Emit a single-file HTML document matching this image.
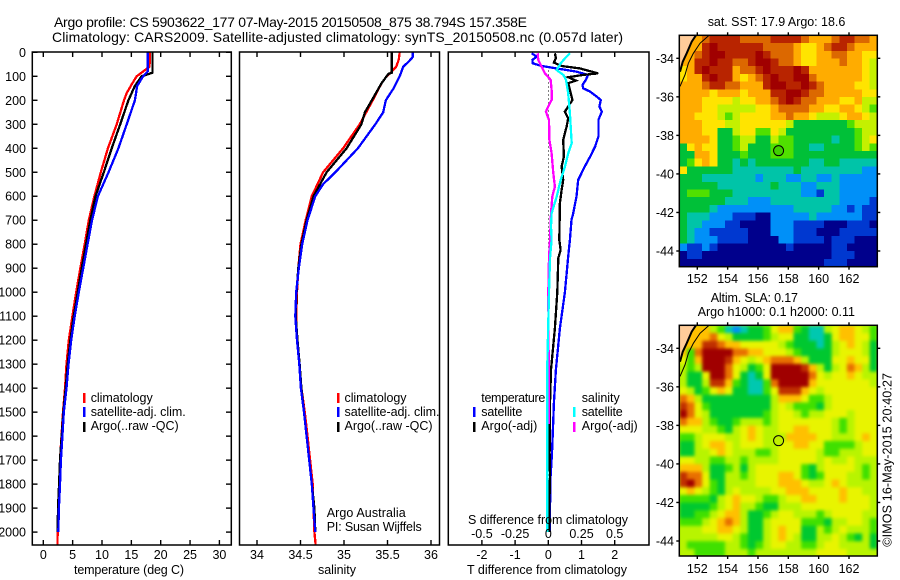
<!DOCTYPE html>
<html>
<head>
<meta charset="utf-8">
<title>Argo profile</title>
<style>
html,body{margin:0;padding:0;background:#fff;}
svg{display:block;}
text{font-family:"Liberation Sans",sans-serif;font-size:12.5px;fill:#000;}
</style>
</head>
<body>
<svg id="fig" width="900" height="580" viewBox="0 0 900 580" xmlns="http://www.w3.org/2000/svg">
  <defs>
    <clipPath id="clip-sst"><rect x="679.3" y="35.3" width="198" height="231.4"/></clipPath>
    <clipPath id="clip-sla"><rect x="679.3" y="325.3" width="198" height="230.7"/></clipPath>
    <filter id="smooth" x="-5%" y="-5%" width="110%" height="110%" color-interpolation-filters="sRGB"><feGaussianBlur stdDeviation="1.7"/></filter>
  </defs>
  <rect x="0" y="0" width="900" height="580" fill="#fff"/>

  <text x="54" y="27" textLength="473" style="font-size:14px">Argo profile: CS 5903622_177 07-May-2015 20150508_875 38.794S 157.358E</text>
  <text x="52" y="42" textLength="571" style="font-size:14px">Climatology: CARS2009. Satellite-adjusted climatology: synTS_20150508.nc (0.057d later)</text>

  <g id="panel-t"></g>
  <g id="panel-s"></g>
  <g id="panel-d"></g>

  <text x="74" y="574" textLength="110">temperature (deg C)</text>
  <text x="318" y="574" textLength="38">salinity</text>
  <text x="467" y="574" textLength="160">T difference from climatology</text>
  <text x="468" y="524" textLength="160">S difference from climatology</text>

  <g>
    <rect x="83" y="393" width="2.5" height="10" fill="#f00"/>
    <text x="90.7" y="402" textLength="62">climatology</text>
    <rect x="83" y="407" width="2.5" height="10" fill="#00f"/>
    <text x="90.7" y="416" textLength="95">satellite-adj. clim.</text>
    <rect x="83" y="422" width="2.5" height="10" fill="#000"/>
    <text x="90.7" y="430" textLength="88">Argo(..raw -QC)</text>
  </g>
  <g>
    <rect x="337" y="393" width="2.5" height="10" fill="#f00"/>
    <text x="344.5" y="402" textLength="62">climatology</text>
    <rect x="337" y="407" width="2.5" height="10" fill="#00f"/>
    <text x="344.5" y="416" textLength="95">satellite-adj. clim.</text>
    <rect x="337" y="422" width="2.5" height="10" fill="#000"/>
    <text x="344.5" y="430" textLength="88">Argo(..raw -QC)</text>
    <text x="326.7" y="517" textLength="79">Argo Australia</text>
    <text x="326.7" y="531" textLength="95">PI: Susan Wijffels</text>
  </g>
  <g>
    <text x="481.3" y="402" textLength="64">temperature</text>
    <rect x="473" y="407" width="2.5" height="10" fill="#00f"/>
    <text x="481.3" y="416" textLength="41">satellite</text>
    <rect x="473" y="422" width="2.5" height="10" fill="#000"/>
    <text x="481.3" y="430" textLength="56">Argo(-adj)</text>
    <text x="581.7" y="402" textLength="38">salinity</text>
    <rect x="573" y="407" width="2.5" height="10" fill="#0ff"/>
    <text x="581.7" y="416" textLength="41">satellite</text>
    <rect x="573" y="422" width="2.5" height="10" fill="#f0f"/>
    <text x="581.7" y="430" textLength="56">Argo(-adj)</text>
  </g>

  <g id="map-sst"></g>
  <g id="map-sla"></g>

  <text x="707.7" y="26" textLength="137.6">sat. SST: 17.9 Argo: 18.6</text>
  <text x="710.7" y="302" textLength="87.3">Altim. SLA: 0.17</text>
  <text x="697.7" y="316" textLength="157.3">Argo h1000: 0.1 h2000: 0.11</text>
  <text transform="translate(891.7,546.7) rotate(-90)" textLength="173.7">©IMOS 16-May-2015 20:40:27</text>
</svg>

<script>
// ---------- profile data ----------
const tempClimDepth = [0,60,80,100,140,170,200,300,400,500,600,700,800,900,1000,1100,1200,1300,1400,1500,1600,1700,1800,1900,2000,2055];
const tempClimValue = [18.2,18.1,17.0,15.9,14.9,14.2,13.75,12.5,11.0,9.8,8.7,7.75,7.05,6.3,5.6,4.95,4.35,3.95,3.7,3.35,3.1,2.85,2.7,2.5,2.45,2.4];
const tempSatDepth = [0,80,100,140,200,300,400,500,600,700,800,900,1000,1100,1200,1300,1400,1500,1600,1700,1800,1900,2000];
const tempSatValue = [17.8,17.8,17.0,16.0,15.6,14.2,12.8,11.1,9.3,8.3,7.55,6.8,6.05,5.35,4.75,4.3,3.95,3.5,3.25,3.0,2.85,2.65,2.55];
const tempArgoDepth = [0,85,90,100,140,200,300,400,500,600,700,800,900,1000,1100,1200,1300,1400,1500,1600,1700,1800,1900,2000];
const tempArgoValue = [18.6,18.6,18.0,16.75,15.6,14.5,13.1,11.65,10.3,8.9,8.0,7.27,6.54,5.86,5.18,4.6,4.15,3.82,3.41,3.13,2.85,2.7,2.5,2.45];

const salClimDepth = [0,30,60,80,100,130,200,300,400,500,600,700,800,900,1000,1100,1200,1300,1400,1500,1600,1700,1800,1900,2000,2055];
const salClimValue = [35.64,35.63,35.6,35.55,35.49,35.43,35.33,35.18,34.99,34.76,34.63,34.56,34.5,34.475,34.46,34.45,34.46,34.486,34.51,34.55,34.58,34.61,34.64,34.65,34.66,34.675];
const salSatDepth = [0,20,40,60,100,150,200,250,300,400,500,550,600,700,800,900,1000,1100,1200,1300,1400,1500,1600,1700,1800,1900,2000];
const salSatValue = [35.79,35.79,35.74,35.68,35.64,35.57,35.48,35.45,35.36,35.16,34.9,34.76,34.67,34.58,34.52,34.48,34.45,34.44,34.46,34.486,34.505,34.54,34.57,34.6,34.63,34.65,34.67];
const salArgoDepth = [0,85,90,100,130,200,250,300,400,500,600,700,800,900,1000,1100,1200,1300,1400,1500,1600,1700,1800,1900,2000];
const salArgoValue = [35.55,35.55,35.51,35.49,35.43,35.32,35.24,35.2,35.03,34.8,34.65,34.57,34.51,34.475,34.455,34.445,34.465,34.49,34.51,34.54,34.57,34.6,34.63,34.66,34.67];

const diffTSatDepth = [4,18,32,46,57,67,81,94,115,136,150,164,185,199,226,247,282,351,393,435,476,532,601,671,699,782,851,1000,1150,1323,1462,1531,1670,1767,1900,2000];
const diffTSatValue = [-0.5,-0.35,-0.48,-0.47,-0.2,0.25,0.85,1.2,1.13,1.03,1.05,1.26,1.46,1.58,1.54,1.61,1.51,1.51,1.41,1.26,1.1,0.9,0.85,0.75,0.7,0.65,0.6,0.5,0.35,0.23,0.17,0.15,0.11,0.07,0.05,0.04];
const diffTArgoDepth = [4,25,43,57,67,88,94,104,118,129,157,199,226,247,275,310,365,435,476,532,574,629,782,824,858,1000,1150,1323,1462,1670,1767,1900,2000];
const diffTArgoValue = [0.2,0.23,0.17,0.4,0.95,1.5,1.05,0.6,0.83,0.6,0.65,0.73,0.6,0.5,0.6,0.55,0.45,0.47,0.4,0.45,0.4,0.35,0.33,0.37,0.3,0.27,0.2,0.08,0.05,0.04,0.05,0.03,0.03];
const diffSSatDepth = [4,25,46,74,94,115,171,254,324,379,421,476,532,601,671,726,782,858,1000,1323,2000];
const diffSSatValue = [0.163,0.126,0.093,0.063,0.113,0.133,0.15,0.163,0.17,0.176,0.15,0.126,0.093,0.063,0.025,0.02,0.025,0.013,0.005,-0.008,-0.008];
const diffSArgoDepth = [4,32,60,88,115,157,199,226,247,282,365,421,504,560,601,671,782,858,1000,1550];
const diffSArgoValue = [-0.08,-0.075,-0.05,-0.025,0.018,0.025,0.025,0,-0.018,0.005,0.008,0.025,0.038,0.05,0.03,0.02,0.013,0.005,0,0.005];

// ---------- tick labels ----------
const depthTicks = [0,100,200,300,400,500,600,700,800,900,1000,1100,1200,1300,1400,1500,1600,1700,1800,1900,2000];
const tempTicks = [0,5,10,15,20,25,30];
const salTicks = [34,34.5,35,35.5,36];
const diffTTicks = [-2,-1,0,1,2];
const diffSLabels = [-0.5,-0.25,0,0.25,0.5];
const lonTicks = [152,154,156,158,160,162];
const latTicks = [-34,-36,-38,-40,-42,-44];

// ---------- map data: colour levels 0-b, rows north to south, columns west to east ----------
const sstLevels = [
"8 8 8 9 a a a a 9 9 9 9 a a a a 9 8 8 8 9 a a 9 9 8",
"8 8 8 a b a a a a a a 9 9 9 9 8 7 7 8 9 a a 9 8 8 8",
"8 8 9 a b b a a a a b a 9 9 9 8 7 7 8 8 9 9 8 8 7 7",
"8 8 a a b a a 9 9 a b b a 9 9 8 7 7 8 8 8 9 8 8 7 6",
"7 8 a b a a a 8 9 9 a b a a a b a 8 8 8 8 8 8 8 7 6",
"7 8 8 a b a a 8 7 8 9 a b a a b b 9 8 8 8 8 8 8 7 6",
"8 8 8 9 a a 9 9 8 8 8 a b b a a b a 9 8 8 8 8 7 7 6",
"8 8 8 8 7 8 8 8 7 8 8 8 a a b b a 9 9 8 8 8 8 8 7 7",
"8 8 8 7 7 7 7 6 7 7 8 8 9 a b a 9 9 8 8 8 7 7 8 6 6",
"8 8 8 7 7 6 6 6 6 6 7 7 8 9 9 9 9 8 8 7 7 8 8 7 6 5",
"8 8 7 7 7 6 5 6 7 7 7 7 8 8 9 8 8 7 6 6 6 7 8 8 7 6",
"8 8 8 7 7 7 6 6 7 7 7 7 7 7 6 4 4 4 4 4 4 4 5 6 6 6",
"8 8 8 7 7 4 4 6 7 7 5 5 7 6 4 4 4 4 4 4 4 4 4 5 6 6",
"8 8 8 8 7 4 4 5 6 6 4 4 6 5 5 4 4 4 4 4 3 4 4 5 6 7",
"4 7 8 7 7 4 4 5 6 4 4 4 5 5 5 4 4 3 3 4 4 4 4 5 6 5",
"4 4 8 8 7 4 4 4 5 4 4 4 5 5 5 4 4 4 4 4 4 4 4 4 4 4",
"4 5 7 8 7 4 4 3 4 3 4 4 4 4 4 4 4 3 3 4 4 3 3 3 3 3",
"7 4 4 4 4 4 4 3 3 3 3 3 3 3 3 4 3 3 3 3 3 3 3 3 2 2",
"4 4 4 3 3 3 3 3 3 3 2 3 3 3 2 2 3 3 2 2 3 2 2 2 2 2",
"4 4 4 4 4 3 3 3 3 3 3 3 4 3 3 3 2 2 3 3 3 2 2 2 2 2",
"4 5 5 5 4 4 4 3 3 3 3 3 3 3 3 3 2 2 1 3 3 2 2 2 2 2",
"4 4 4 4 4 4 3 3 3 2 2 2 3 3 3 3 3 3 3 3 3 2 2 2 2 1",
"4 4 4 4 3 2 2 2 2 2 2 2 2 2 2 3 3 3 3 3 2 2 1 2 1 1",
"4 3 3 3 2 2 2 1 1 1 0 0 2 2 2 2 2 3 2 2 2 2 2 2 1 1",
"4 3 3 2 2 2 1 1 0 0 0 0 2 2 2 1 1 1 1 0 0 0 1 1 1 0",
"4 3 2 2 1 1 1 1 1 0 0 0 2 2 2 1 1 1 0 0 0 1 1 1 1 1",
"4 3 2 2 2 1 1 1 1 0 0 0 0 2 2 1 1 1 1 0 1 1 1 0 0 0",
"2 1 1 2 1 0 0 0 0 0 0 0 0 0 1 0 0 0 0 0 1 1 0 0 0 0",
"0 1 1 0 0 0 0 0 0 0 0 0 0 0 0 0 0 0 0 0 1 1 1 0 0 0",
"0 0 0 0 0 0 0 0 0 0 0 0 0 0 0 0 0 0 0 1 1 1 0 0 0 0"
];
const slaLevels = [
"8 8 8 8 6 5 3 2 3 4 4 5 7 8 8 5 4 3 3 6 7 8 8 7 6 5",
"8 8 8 8 9 7 6 4 4 4 4 5 6 7 7 4 4 3 3 4 7 8 8 7 7 5",
"8 8 8 a a 9 8 8 7 7 7 7 7 6 5 4 4 4 3 4 6 7 8 7 6 4",
"8 5 9 b b b b 9 9 8 8 7 7 7 6 5 4 4 4 4 6 7 7 7 6 4",
"7 5 8 b b b a 8 7 6 7 8 9 9 9 8 6 4 4 4 7 7 8 7 7 4",
"6 5 6 b b b 9 7 6 4 5 7 b b b b a 8 6 4 6 7 9 8 6 4",
"6 4 4 7 b b 9 7 4 3 4 7 b b b b b 9 7 6 7 7 8 7 6 6",
"6 4 4 6 a a 8 5 4 3 3 5 9 b b b b 8 7 7 7 7 7 7 7 6",
"7 6 4 5 7 8 7 4 4 3 3 5 7 a a a 8 7 6 7 7 7 7 7 7 7",
"9 8 6 4 4 4 4 4 4 4 4 4 6 8 8 8 7 5 5 6 7 7 7 7 7 7",
"a 9 7 5 4 4 4 4 4 4 4 4 6 7 6 5 5 5 4 6 7 7 7 7 7 7",
"b 9 7 6 4 4 4 4 4 4 4 5 6 7 7 6 5 6 6 7 7 7 6 7 7 7",
"9 8 8 6 5 4 4 5 6 6 6 5 6 7 7 7 7 7 7 7 6 5 6 7 7 7",
"7 7 7 6 6 5 4 6 7 8 7 6 6 7 7 8 8 7 7 7 6 5 6 7 7 7",
"5 5 6 7 7 7 6 6 7 8 7 6 6 6 8 8 8 8 7 7 6 6 6 7 8 7",
"4 4 6 7 8 8 7 6 7 7 7 6 6 7 7 8 8 7 7 5 5 5 5 6 7 7",
"4 4 6 6 7 8 7 6 6 6 5 5 6 7 7 7 7 7 6 5 5 6 6 6 7 7",
"7 7 6 6 5 5 6 6 5 6 6 6 6 7 7 7 7 7 6 7 6 6 7 6 6 6",
"8 8 8 6 4 4 5 6 4 6 7 7 7 7 7 7 5 4 6 7 7 7 7 6 5 6",
"a 9 9 7 4 4 6 6 5 6 7 7 7 8 8 7 5 4 5 7 7 7 6 6 5 6",
"a b 9 7 5 4 6 6 6 6 7 7 7 8 8 8 7 6 6 7 8 7 6 6 6 6",
"7 8 7 6 5 4 6 7 6 6 6 6 7 7 8 8 8 7 7 7 7 8 7 7 6 6",
"5 5 5 5 4 6 7 8 7 7 6 5 5 6 7 7 8 8 7 7 7 8 7 7 7 6",
"4 4 4 4 5 6 7 8 6 6 5 4 4 6 6 6 7 7 7 7 7 7 7 7 7 6",
"4 4 5 5 6 7 8 8 6 4 4 5 6 7 7 6 6 6 5 6 7 7 7 7 6 6",
"5 5 5 6 7 8 9 8 6 4 4 6 7 7 7 7 5 5 5 4 6 6 7 7 6 5",
"6 6 6 7 7 8 8 7 6 4 4 6 7 8 7 7 4 4 6 5 6 7 6 6 6 5",
"6 6 6 6 6 7 7 6 5 4 4 6 7 8 7 6 4 4 6 6 7 6 5 4 6 4",
"6 5 5 5 5 5 6 6 5 4 5 6 7 7 6 6 5 5 6 7 7 6 6 6 6 4",
"6 6 5 5 5 5 6 6 6 5 6 6 6 6 6 6 6 6 7 7 7 7 6 6 6 6"
];
const sstColors = ["#00008c","#0038d0","#0090f8","#00c4a8","#00c038","#50e000","#c4f000","#ffe400","#ffac00","#dc6800","#b82400","#a00000"];
const slaColors = ["#00008c","#0038d0","#0090f8","#00c8b0","#00c830","#40e000","#b8f400","#e8f400","#ffc000","#e87000","#c03000","#a00000"];

// ---------- coast, contour, float position (lon, lat) ----------
const coastLon = [151.91,151.63,151.3,151.04,150.86];
const coastLat = [-32.81,-33.14,-33.74,-34.18,-34.7];
const contourLon = [152.77,152.18,151.74,151.41,151.19,150.86];
const contourLat = [-32.81,-33.22,-33.74,-34.26,-34.86,-35.46];
const floatLon = 157.358;
const floatLat = -38.794;

// ---------- axis functions ----------
const NS = "http://www.w3.org/2000/svg";
const depthY = d => 52.3 + d * 0.2399;
const tempX = t => 43.3 + t * 5.87;
const salX = s => 257 + (s - 34) * 87;
const diffTX = t => 548.3 + t * 33.2;
const diffSX = s => 548.3 + s * 132.8;
const lonX = lon => 697.3 + (lon - 152) * 15.17;
const sstLatY = lat => 58.3 + (-34 - lat) * 19.27;
const slaLatY = lat => 348.3 + (-34 - lat) * 19.27;

function node(parent, tag, attrs, text) {
  const el = document.createElementNS(NS, tag);
  for (const k in attrs) el.setAttribute(k, attrs[k]);
  if (text !== undefined) el.textContent = text;
  parent.appendChild(el);
  return el;
}

function drawTick(parent, x1, y1, x2, y2) {
  const el = node(parent, "line", {x1: x1, y1: y1, x2: x2, y2: y2, stroke: "#000", "stroke-width": 1.4});
  
  
}

function drawLabel(parent, x, y, anchor, str) {
  const el = node(parent, "text", {x: x, y: y, "text-anchor": anchor}, str);
  
  
}

function drawFrame(parent, x, y, w, h) {
  const el = node(parent, "rect", {x: x, y: y, width: w, height: h, fill: "none", stroke: "#000", "stroke-width": 1.5});
  
  
}

function drawProfile(parent, depths, values, xf, color, name) {
  const pts = depths.map((d, i) => xf(values[i]).toFixed(1) + "," + depthY(d).toFixed(1)).join(" ");
  const el = node(parent, "polyline", {points: pts, fill: "none", stroke: color, "stroke-width": 2.3, "stroke-linejoin": "miter", "shape-rendering": "crispEdges"});
  
  
}

const TOP = 52, BOTTOM = 545;

// ---------- temperature panel ----------
const pT = document.getElementById("panel-t");
drawProfile(pT, tempClimDepth, tempClimValue, tempX, "#f00", "temperature-climatology-line");
drawProfile(pT, tempArgoDepth, tempArgoValue, tempX, "#000", "temperature-argo-line");
drawProfile(pT, tempSatDepth, tempSatValue, tempX, "#00f", "temperature-satellite-line");
drawFrame(pT, 32.3, TOP, 199, BOTTOM - TOP);
depthTicks.forEach(d => {
  drawTick(pT, 32.3, depthY(d), 37.5, depthY(d));
  drawTick(pT, 226, depthY(d), 231.3, depthY(d));
  drawLabel(pT, 26, depthY(d) + 4.5, "end", String(d));
});
tempTicks.forEach(t => {
  drawTick(pT, tempX(t), TOP, tempX(t), TOP + 5);
  drawTick(pT, tempX(t), BOTTOM - 5, tempX(t), BOTTOM);
  drawLabel(pT, tempX(t), 559, "middle", String(t));
});

// ---------- salinity panel ----------
const pS = document.getElementById("panel-s");
drawProfile(pS, salClimDepth, salClimValue, salX, "#f00", "salinity-climatology-line");
drawProfile(pS, salArgoDepth, salArgoValue, salX, "#000", "salinity-argo-line");
drawProfile(pS, salSatDepth, salSatValue, salX, "#00f", "salinity-satellite-line");
drawFrame(pS, 239.5, TOP, 200, BOTTOM - TOP);
salTicks.forEach(s => {
  drawTick(pS, salX(s), TOP, salX(s), TOP + 5);
  drawTick(pS, salX(s), BOTTOM - 5, salX(s), BOTTOM);
  drawLabel(pS, salX(s), 559, "middle", String(s));
});

// ---------- difference panel ----------
const pD = document.getElementById("panel-d");
const zeroLine = node(pD, "line", {x1: diffTX(0), y1: depthY(60), x2: diffTX(0), y2: depthY(2000), stroke: "#000", "stroke-width": 1, "stroke-dasharray": "1 3", "shape-rendering": "crispEdges"});


drawProfile(pD, diffTSatDepth, diffTSatValue, diffTX, "#00f", "t-difference-satellite-line");
drawProfile(pD, diffTArgoDepth, diffTArgoValue, diffTX, "#000", "t-difference-argo-line");
drawProfile(pD, diffSArgoDepth, diffSArgoValue, diffSX, "#f0f", "s-difference-argo-line");
drawProfile(pD, diffSSatDepth, diffSSatValue, diffSX, "#0ff", "s-difference-satellite-line");
drawFrame(pD, 448.3, TOP, 200.7, BOTTOM - TOP);
diffTTicks.forEach(t => {
  drawTick(pD, diffTX(t), TOP, diffTX(t), TOP + 5);
  drawTick(pD, diffTX(t), BOTTOM - 5, diffTX(t), BOTTOM);
  drawLabel(pD, diffTX(t), 559, "middle", String(t));
});
diffSLabels.forEach(s => {
  drawLabel(pD, diffSX(s), 538, "middle", String(s));
});

// ---------- maps ----------
function drawMap(groupId, levels, colors, latY, clipId, smooth, top, bottom, markerColor, labelY) {
  const g = document.getElementById(groupId);
  const clip = node(g, "g", {"clip-path": "url(#" + clipId + ")"});
  
  
  node(clip, "rect", {x: 679.3, y: top, width: 198, height: bottom - top, fill: colors[6]});
  const cells = node(clip, "g", smooth ? {filter: "url(#smooth)"} : {"shape-rendering": "crispEdges"});
  const west = 150.81, dLon = 13.06 / 26, north = -32.81, dLat = 0.4;
  levels.forEach((row, r) => {
    row.split(" ").forEach((code, c) => {
      const x0 = lonX(west + c * dLon), x1 = lonX(west + (c + 1) * dLon);
      const y0 = latY(north - r * dLat), y1 = latY(north - (r + 1) * dLat);
      const cell = node(cells, "rect", {x: x0, y: y0, width: x1 - x0 + 0.4, height: y1 - y0 + 0.4, fill: colors[parseInt(code, 16)]});
      
      
    });
  });
  const landPts = coastLon.map((lon, i) => lonX(lon) + "," + latY(coastLat[i])).join(" ") + " " + lonX(150.81) + "," + latY(-34.7) + " " + lonX(150.81) + "," + latY(-32.81);
  const land = node(clip, "polygon", {points: landPts, fill: "#ffcc99"});
  
  
  const coast = node(clip, "polyline", {points: coastLon.map((lon, i) => lonX(lon) + "," + latY(coastLat[i])).join(" "), fill: "none", stroke: "#000", "stroke-width": 2});
  
  
  const contour = node(clip, "polyline", {points: contourLon.map((lon, i) => lonX(lon) + "," + latY(contourLat[i])).join(" "), fill: "none", stroke: "#000", "stroke-width": 1});
  
  
  const marker = node(g, "circle", {cx: lonX(floatLon), cy: latY(floatLat), r: 5, fill: markerColor, stroke: "#000", "stroke-width": 1});
  
  
  drawFrame(g, 679.3, top, 198, bottom - top);
  lonTicks.forEach(lon => {
    drawTick(g, lonX(lon), top - 3, lonX(lon), top);
    drawTick(g, lonX(lon), bottom, lonX(lon), bottom + 3);
    drawLabel(g, lonX(lon), labelY, "middle", String(lon));
  });
  latTicks.forEach(lat => {
    drawTick(g, 676.3, latY(lat), 679.3, latY(lat));
    drawTick(g, 877.3, latY(lat), 880.3, latY(lat));
    drawLabel(g, 674, latY(lat) + 4.5, "end", String(lat));
  });
}

drawMap("map-sst", sstLevels, sstColors, sstLatY, "clip-sst", false, 35.3, 266.7, "#40d000", 283);
drawMap("map-sla", slaLevels, slaColors, slaLatY, "clip-sla", true, 325.3, 556, "#c0f000", 573);
</script>
</body>
</html>
